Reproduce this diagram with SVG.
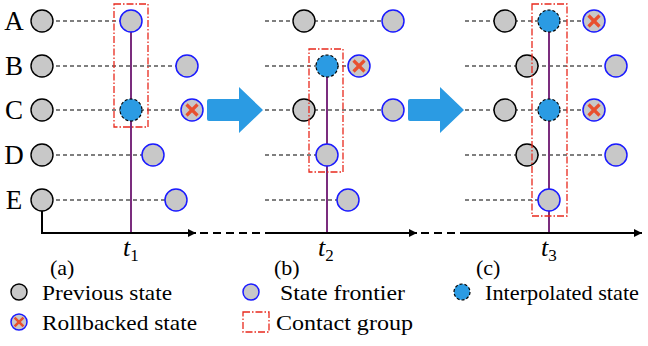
<svg xmlns="http://www.w3.org/2000/svg" width="648" height="346" viewBox="0 0 648 346">
<defs>
<style>
.prev{fill:#c8c8c8;stroke:#000;stroke-width:1.4}
.front{fill:#c8c8c8;stroke:#1a1aff;stroke-width:1.5}
.interp{fill:#2b9be3;stroke:#000;stroke-width:1.2;stroke-dasharray:3,2}
.x{stroke:#e8502f;stroke-width:3.2;stroke-linecap:butt}
.dash{stroke:#000;stroke-width:1.1;stroke-dasharray:4,3;fill:none}
.purple{stroke:#7b2d7e;stroke-width:2}
.grp{fill:none;stroke:#e8291c;stroke-width:1.3;stroke-dasharray:7,2,1.5,2}
.axis{stroke:#000;stroke-width:2;fill:none}
.axisd{stroke:#000;stroke-width:2;fill:none;stroke-dasharray:8,5}
.big{fill:#2b9be3}
text{font-family:'Liberation Serif','Times New Roman','DejaVu Serif',serif;fill:#000}
.lbl{font-size:27px}
.leg{font-size:22px}
.t{font-style:italic;font-size:26px}
.sub{font-style:normal;font-size:17px}
</style>
<marker id="ah" viewBox="0 0 10 10" refX="10" refY="5" markerWidth="4" markerHeight="4" orient="auto" markerUnits="strokeWidth"><path d="M0,0 L10,5 L0,10 z" fill="#000"/></marker>
<g id="xmark"><line class="x" x1="-5.5" y1="-5.5" x2="5.5" y2="5.5"/><line class="x" x1="-5.5" y1="5.5" x2="5.5" y2="-5.5"/></g>
</defs>
<g id="connectors">
<line class="dash" x1="42" y1="21" x2="131" y2="21"/>
<line class="dash" x1="42" y1="66" x2="187" y2="66"/>
<line class="dash" x1="42" y1="110" x2="192" y2="110"/>
<line class="dash" x1="42" y1="155" x2="153" y2="155"/>
<line class="dash" x1="42" y1="200" x2="176" y2="200"/>
<line class="dash" x1="265" y1="21" x2="393" y2="21"/>
<line class="dash" x1="265" y1="66" x2="359" y2="66"/>
<line class="dash" x1="265" y1="110" x2="393" y2="110"/>
<line class="dash" x1="265" y1="155" x2="327" y2="155"/>
<line class="dash" x1="265" y1="200" x2="348" y2="200"/>
<line class="dash" x1="465" y1="21" x2="594" y2="21"/>
<line class="dash" x1="465" y1="66" x2="616" y2="66"/>
<line class="dash" x1="465" y1="110" x2="594" y2="110"/>
<line class="dash" x1="465" y1="155" x2="616" y2="155"/>
<line class="dash" x1="465" y1="200" x2="549" y2="200"/>
<line class="purple" x1="131" y1="21" x2="131" y2="233"/>
<line class="purple" x1="327" y1="66" x2="327" y2="233"/>
<line class="purple" x1="549" y1="21" x2="549" y2="233"/>
<polyline class="axis" points="42,211 42,233 196,233" marker-end="url(#ah)"/>
<line class="axisd" x1="200" y1="233" x2="265" y2="233"/>
<line class="axis" x1="265" y1="233" x2="417" y2="233" marker-end="url(#ah)"/>
<line class="axisd" x1="421" y1="233" x2="465" y2="233"/>
<line class="axis" x1="465" y1="233" x2="642" y2="233" marker-end="url(#ah)"/>
<path class="big" d="M209,99 L239,99 L239,87 L263,110 L239,133 L239,121 L209,121 Q207,121 207,119 L207,101 Q207,99 209,99 z"/>
<path class="big" d="M410,99 L440,99 L440,87 L464,110 L440,133 L440,121 L410,121 Q408,121 408,119 L408,101 Q408,99 410,99 z"/>
</g>
<g id="row-labels">
<text class="lbl" x="14" y="30" text-anchor="middle">A</text>
<text class="lbl" x="14" y="75" text-anchor="middle">B</text>
<text class="lbl" x="14" y="119" text-anchor="middle">C</text>
<text class="lbl" x="14" y="164" text-anchor="middle">D</text>
<text class="lbl" x="14" y="209" text-anchor="middle">E</text>
</g>
<g id="panel-a">
<circle class="prev" cx="42" cy="21" r="11"/>
<circle class="prev" cx="42" cy="66" r="11"/>
<circle class="prev" cx="42" cy="110" r="11"/>
<circle class="prev" cx="42" cy="155" r="11"/>
<circle class="prev" cx="42" cy="200" r="11"/>
<circle class="front" cx="131" cy="21" r="11"/>
<circle class="front" cx="187" cy="66" r="11"/>
<circle class="interp" cx="131" cy="110" r="11"/>
<g><circle class="front" cx="192" cy="110" r="11"/><use href="#xmark" x="192" y="110"/></g>
<circle class="front" cx="153" cy="155" r="11"/>
<circle class="front" cx="176" cy="200" r="11"/>
<rect class="grp" x="114" y="4" width="34" height="123"/>
</g>
<g id="panel-b">
<circle class="prev" cx="304" cy="21" r="11"/>
<circle class="front" cx="393" cy="21" r="11"/>
<circle class="interp" cx="327" cy="66" r="11"/>
<g><circle class="front" cx="359" cy="66" r="11"/><use href="#xmark" x="359" y="66"/></g>
<circle class="prev" cx="304" cy="110" r="11"/>
<circle class="front" cx="393" cy="110" r="11"/>
<circle class="front" cx="327" cy="155" r="11"/>
<circle class="front" cx="348" cy="200" r="11"/>
<rect class="grp" x="309" y="49" width="34" height="123"/>
</g>
<g id="panel-c">
<circle class="prev" cx="505" cy="21" r="11"/>
<circle class="interp" cx="549" cy="21" r="11"/>
<g><circle class="front" cx="594" cy="21" r="11"/><use href="#xmark" x="594" y="21"/></g>
<circle class="prev" cx="527" cy="66" r="11"/>
<circle class="front" cx="616" cy="66" r="11"/>
<circle class="prev" cx="505" cy="110" r="11"/>
<circle class="interp" cx="549" cy="110" r="11"/>
<g><circle class="front" cx="594" cy="110" r="11"/><use href="#xmark" x="594" y="110"/></g>
<circle class="prev" cx="527" cy="155" r="11"/>
<circle class="front" cx="616" cy="155" r="11"/>
<circle class="front" cx="549" cy="200" r="11"/>
<rect class="grp" x="532" y="4" width="35" height="212"/>
</g>
<g id="time-labels">
<text class="t" x="123" y="256">t<tspan class="sub" dy="5">1</tspan></text>
<text class="t" x="318" y="256">t<tspan class="sub" dy="5">2</tspan></text>
<text class="t" x="541" y="256">t<tspan class="sub" dy="5">3</tspan></text>
<text class="leg" x="50" y="275">(a)</text>
<text class="leg" x="274" y="275">(b)</text>
<text class="leg" x="476" y="275">(c)</text>
</g>
<g id="legend">
<circle class="prev" cx="19" cy="292" r="8"/>
<text class="leg" x="42" y="300" textLength="130" lengthAdjust="spacingAndGlyphs">Previous state</text>
<circle class="front" cx="251" cy="292" r="8"/>
<text class="leg" x="280" y="300" textLength="125" lengthAdjust="spacingAndGlyphs">State frontier</text>
<circle class="interp" cx="462" cy="292" r="8"/>
<text class="leg" x="485" y="300" textLength="154" lengthAdjust="spacingAndGlyphs">Interpolated state</text>
<g><circle class="front" cx="19" cy="322" r="8"/><g transform="translate(19,322) scale(0.8)"><use href="#xmark"/></g></g>
<text class="leg" x="42" y="330" textLength="155" lengthAdjust="spacingAndGlyphs">Rollbacked state</text>
<rect class="grp" x="243" y="312" width="26" height="20"/>
<text class="leg" x="276" y="330" textLength="137" lengthAdjust="spacingAndGlyphs">Contact group</text>
</g>
</svg>
